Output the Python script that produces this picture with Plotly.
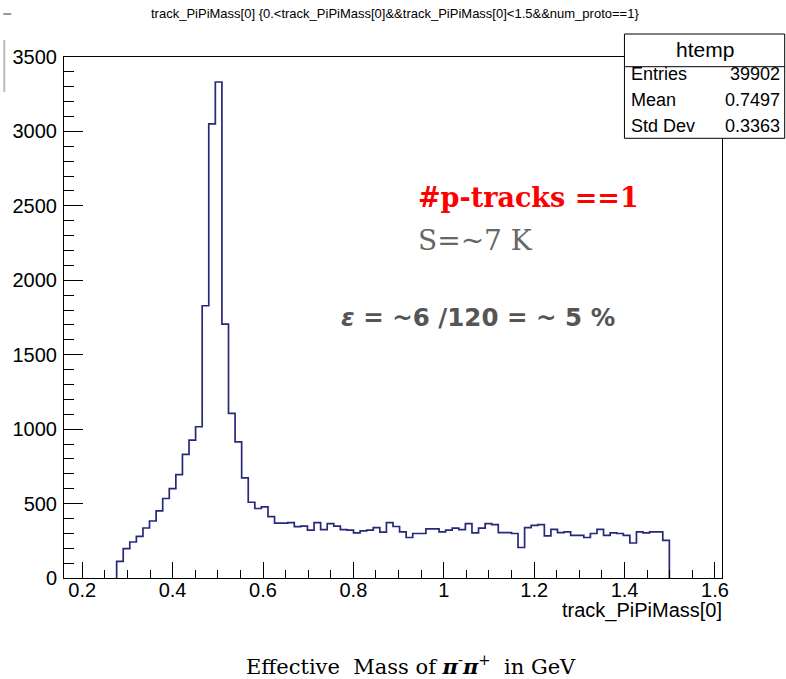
import plotly.graph_objects as go

# Histogram definition (100 bins, ROOT-style htemp)
hist_xmin = 0.1597
hist_xmax = 1.6156
n_bins = 100
n_empty_low = 8

# Contents of the filled bins (the remaining bins are empty)
filled_counts = [
    112, 198, 242, 280, 336, 383, 451, 534, 601, 695,
    830, 926, 1016, 1829, 3051, 3332, 1706, 1106, 915, 673,
    509, 467, 478, 412, 369, 368, 372, 345, 348, 321,
    372, 325, 365, 348, 325, 321, 303, 317, 321, 339,
    308, 372, 346, 310, 272, 299, 299, 330, 330, 310,
    321, 335, 325, 365, 303, 335, 365, 358, 305, 305,
    299, 205, 339, 354, 359, 283, 327, 305, 310, 287,
    287, 272, 299, 327, 287, 303, 299, 287, 235, 310,
    303, 310, 310, 253,
]

stats_labels = ["Entries", "Mean", "Std Dev"]
stats_values = ["39902", "0.7497", "0.3363"]

x_ticks = [0.2, 0.4, 0.6, 0.8, 1.0, 1.2, 1.4, 1.6]
y_ticks = [0, 500, 1000, 1500, 2000, 2500, 3000, 3500]

W, H = 786, 679
ML, MR, MT, MB = 61, 64, 57, 101
PW, PH = W - ML - MR, H - MT - MB


def px(x):
    return (x - ML) / PW


def py(y):
    return (H - MB - y) / PH


bw = (hist_xmax - hist_xmin) / n_bins
edges = [hist_xmin + i * bw for i in range(n_bins + 1)]

# outline of the filled part: up from the baseline, steps, back down
i0 = n_empty_low
i1 = n_empty_low + len(filled_counts)
step_x = [edges[i0]] + edges[i0:i1] + [edges[i1]]
step_y = [0] + filled_counts + [0]

fig = go.Figure()
fig.add_trace(go.Scatter(
    x=step_x, y=step_y, mode="lines", line_shape="hv",
    line=dict(color="#28287a", width=1.7), hoverinfo="skip",
    showlegend=False,
))

SANS = "Liberation Sans, Arial, sans-serif"
SERIF = "DejaVu Serif, serif"

axis_common = dict(
    showgrid=False, zeroline=False, showline=True, linecolor="black",
    linewidth=1, mirror=True, ticks="inside", tickcolor="black",
    layer="above traces",
    tickfont=dict(family=SANS, size=20, color="black"),
)

fig.update_xaxes(
    range=[hist_xmin, hist_xmax], tickvals=x_ticks,
    ticktext=[f"{v:g}" for v in x_ticks], ticklen=16, tickwidth=1,
    minor=dict(ticks="inside", dtick=0.05, tick0=0.2, ticklen=8,
               tickcolor="black", tickwidth=1, showgrid=False),
    ticklabelstandoff=-6,
    **axis_common,
)
fig.update_yaxes(
    range=[0, 3500], tickvals=y_ticks,
    ticktext=[str(v) for v in y_ticks], ticklen=19, tickwidth=1,
    minor=dict(ticks="inside", dtick=100, tick0=0, ticklen=10,
               tickcolor="black", tickwidth=1, showgrid=False),
    ticklabelstandoff=2,
    **axis_common,
)

shapes = []
# statistics box
shapes.append(dict(type="rect", xref="paper", yref="paper",
                   x0=px(624), x1=px(785), y0=py(138.3), y1=py(34),
                   line=dict(color="black", width=1), fillcolor="white",
                   layer="above"))
shapes.append(dict(type="line", xref="paper", yref="paper",
                   x0=px(624), x1=px(785), y0=py(66.7), y1=py(66.7),
                   line=dict(color="black", width=1), layer="above"))
# canvas edge marks
shapes.append(dict(type="line", xref="paper", yref="paper",
                   x0=px(0), x1=px(8), y0=py(14), y1=py(14),
                   line=dict(color="#333333", width=1)))
shapes.append(dict(type="line", xref="paper", yref="paper",
                   x0=px(1), x1=px(1), y0=py(40), y1=py(92),
                   line=dict(color="#bbbbbb", width=2)))

annotations = []


def note(text, x, y, xanchor="center", size=20, family=SANS, color="black"):
    annotations.append(dict(
        text=text, x=px(x), y=py(y), xref="paper", yref="paper",
        xanchor=xanchor, yanchor="middle", showarrow=False,
        font=dict(family=family, size=size, color=color),
    ))


note("track_PiPiMass[0] {0.&lt;track_PiPiMass[0]&amp;&amp;track_PiPiMass[0]&lt;1.5&amp;&amp;num_proto==1}",
     394, 13, size=13)
note("track_PiPiMass[0]", 724, 610, xanchor="right", size=20)

note("htemp", 705, 49, size=21)
for i, (lab, val) in enumerate(zip(stats_labels, stats_values)):
    yy = 74 + i * 26
    note(lab, 629, yy, xanchor="left", size=18)
    note(val, 782, yy, xanchor="right", size=18)

note("<b>#p-tracks ==1</b>", 415, 197, xanchor="left", size=27,
     family=SERIF, color="#ff0000")
note("S=~7 K", 415, 240, xanchor="left", size=28, family=SERIF,
     color="#666666")
note("<b><i>ε</i></b><b> = ~6 /120 = ~ 5 %</b>", 337, 317, xanchor="left",
     size=24.5, family="DejaVu Sans, sans-serif", color="#555555")
note("Effective  Mass of <b><i>π</i></b><sup>-</sup><b><i>π</i></b><sup>+</sup>  in GeV",
     410, 665, size=21, family=SERIF)

fig.update_layout(
    width=W, height=H, autosize=False,
    margin=dict(l=ML, r=MR, t=MT, b=MB, pad=0),
    paper_bgcolor="white", plot_bgcolor="white",
    shapes=shapes, annotations=annotations,
)

fig.write_html("out.html")
